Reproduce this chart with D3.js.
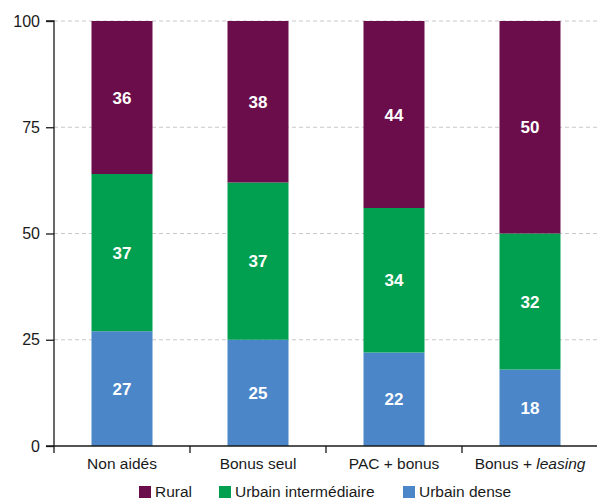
<!DOCTYPE html>
<html>
<head>
<meta charset="utf-8">
<script src="https://cdn.jsdelivr.net/npm/d3@7.9.0/dist/d3.min.js"></script>
<style>
  body { margin: 0; background: #fff; }
  svg { font-family: "Liberation Sans", Arial, Helvetica, sans-serif; }
</style>
</head>
<body>
<svg id="chart" width="597" height="502"></svg>
<script>
const categories = ['Non aidés', 'Bonus seul', 'PAC + bonus', 'Bonus + leasing'];
const seriesNames = ['Urbain dense', 'Urbain intermédiaire', 'Rural'];
const urbainDense = [27, 25, 22, 18];
const urbainInter = [37, 37, 34, 32];
const rural = [36, 38, 44, 50];
const yTicks = [0, 25, 50, 75, 100];
const colors = { 'Rural': '#6a0d4a', 'Urbain intermédiaire': '#00a050', 'Urbain dense': '#4a86c8' };

const rows = categories.map((c, i) => ({
  cat: c,
  'Urbain dense': urbainDense[i],
  'Urbain intermédiaire': urbainInter[i],
  'Rural': rural[i]
}));

const svg = d3.select('#chart');
const plotLeft = 54, plotRight = 598, plotTop = 21, plotBottom = 446;

const x = d3.scaleBand().domain(categories).range([plotLeft, plotRight]).paddingInner(0).paddingOuter(0);
const y = d3.scaleLinear().domain([0, 100]).range([plotBottom, plotTop]);
const barW = 61;

// grid
svg.append('g').selectAll('line')
  .data(yTicks.filter(d => d > 0))
  .join('line')
  .attr('x1', plotLeft).attr('x2', plotRight)
  .attr('y1', d => y(d)).attr('y2', d => y(d))
  .attr('stroke', '#c8c8c8').attr('stroke-dasharray', '4,3');

const stack = d3.stack().keys(seriesNames)(rows);

const g = svg.append('g');
stack.forEach(layer => {
  layer.forEach(d => {
    const cx = x(d.data.cat) + x.bandwidth() / 2;
    g.append('rect')
      .attr('x', cx - barW / 2)
      .attr('width', barW)
      .attr('y', y(d[1]))
      .attr('height', y(d[0]) - y(d[1]))
      .attr('fill', colors[layer.key]);
    g.append('text')
      .attr('x', cx)
      .attr('y', (y(d[0]) + y(d[1])) / 2)
      .attr('dy', '0.36em')
      .attr('text-anchor', 'middle')
      .attr('fill', '#fff')
      .attr('font-weight', 'bold')
      .attr('font-size', 17)
      .text(d[1] - d[0]);
  });
});

// y axis
const yAxis = svg.append('g').attr('transform', `translate(${plotLeft},0)`)
  .call(d3.axisLeft(y).tickValues(yTicks).tickSize(8).tickPadding(6));
yAxis.selectAll('text').attr('font-size', 16).attr('fill', '#1a1a1a')
  .style('font-family', '"Liberation Sans", Arial, sans-serif');
yAxis.select('.domain').attr('d', `M-8,${plotTop}H0V${plotBottom}`).attr('stroke', '#1a1a1a').attr('stroke-width', 1.3);
yAxis.selectAll('.tick line').attr('stroke', '#1a1a1a').attr('stroke-width', 1.3);

// x axis
const xAxis = svg.append('g').attr('transform', `translate(0,${plotBottom})`)
  .call(d3.axisBottom(x).tickSize(0).tickPadding(12));
xAxis.select('.domain').attr('d', `M${plotLeft - 8},0H${plotRight}`).attr('stroke', '#1a1a1a').attr('stroke-width', 1.3);
xAxis.selectAll('text').attr('font-size', 15.5).attr('fill', '#1a1a1a')
  .style('font-family', '"Liberation Sans", Arial, sans-serif')
  .each(function (d) {
    if (d === 'Bonus + leasing') {
      const t = d3.select(this).text('');
      t.append('tspan').text('Bonus + ');
      t.append('tspan').attr('font-style', 'italic').text('leasing');
    }
  });
// boundary ticks
xAxis.append('g').selectAll('line')
  .data(categories.map(c => x(c)))
  .join('line')
  .attr('x1', d => d).attr('x2', d => d)
  .attr('y1', 0).attr('y2', 7)
  .attr('stroke', '#1a1a1a').attr('stroke-width', 1.3);

// legend
const legendItems = [
  { name: 'Rural', x: 139 },
  { name: 'Urbain intermédiaire', x: 219 },
  { name: 'Urbain dense', x: 403 }
];
const lg = svg.append('g');
legendItems.forEach(it => {
  lg.append('rect').attr('x', it.x).attr('y', 486).attr('width', 12).attr('height', 12)
    .attr('fill', colors[it.name]);
  lg.append('text').attr('x', it.x + 16).attr('y', 497)
    .attr('font-size', 15.5).attr('fill', '#1a1a1a').text(it.name);
});
</script>
</body>
</html>
